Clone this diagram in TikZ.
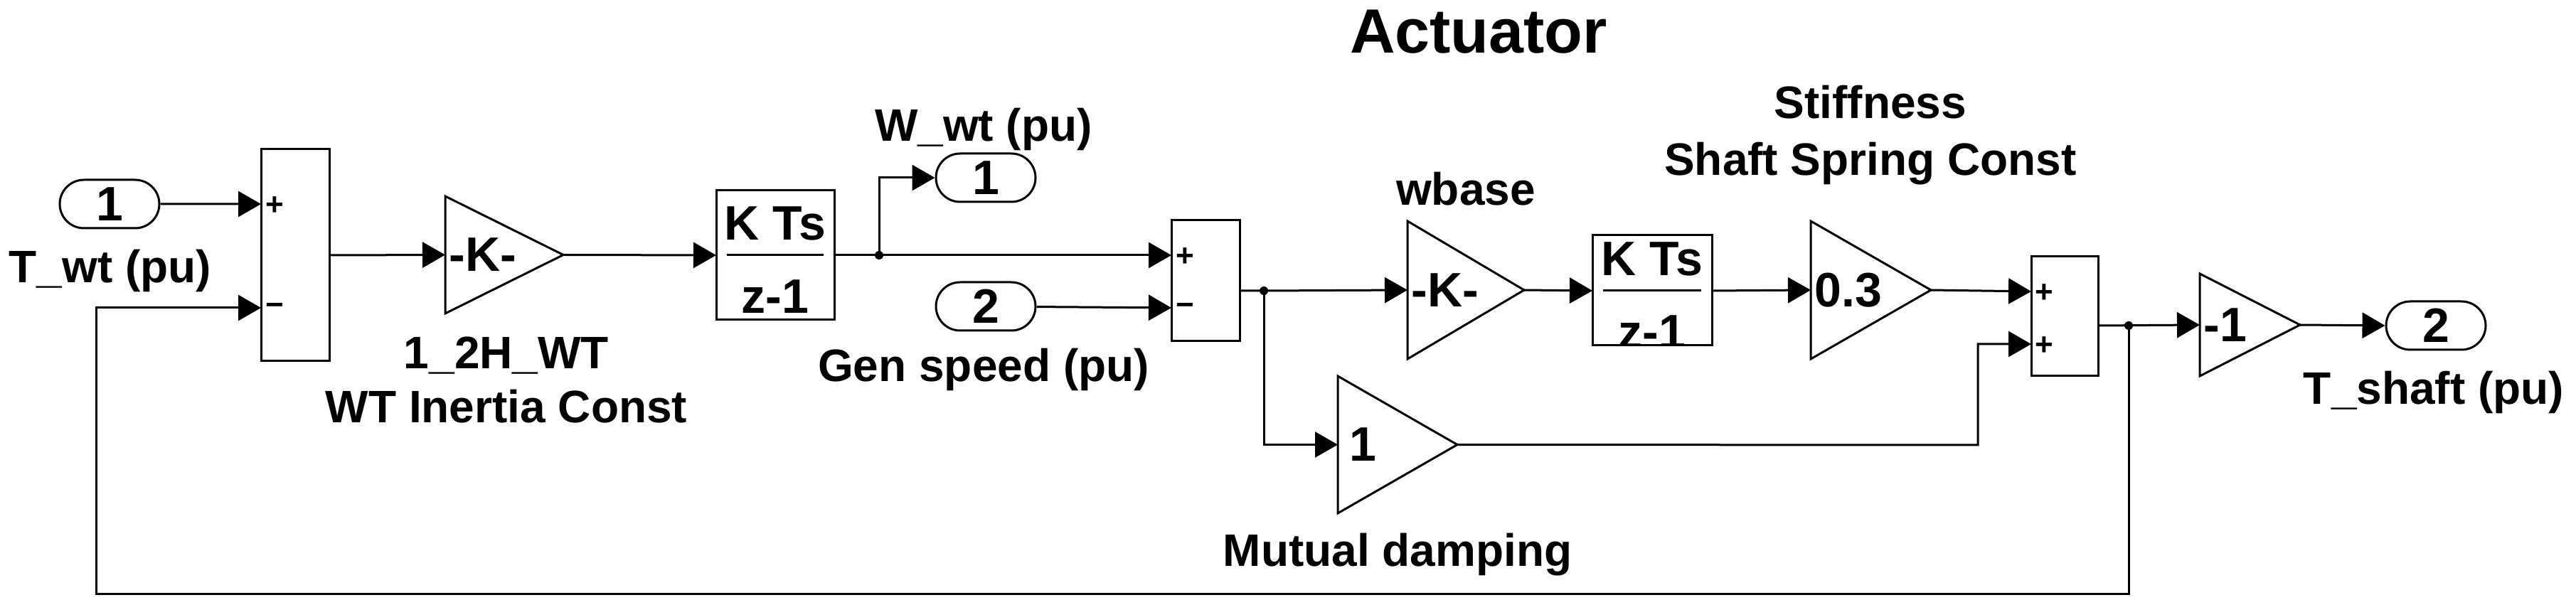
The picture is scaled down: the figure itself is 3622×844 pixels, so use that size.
\documentclass[tikz,border=0pt]{standalone}
\usepackage{fontspec}
\setmainfont{Liberation Sans}
\usetikzlibrary{arrows.meta,shapes.misc}
\begin{document}
\begin{tikzpicture}[x=0.25pt,y=-0.25pt,line width=0.75pt,
  >={Triangle[length=8pt,width=9pt]},
  lbl/.style={font=\bfseries\fontsize{16}{18}\selectfont,align=center},
  blk/.style={font=\bfseries\fontsize{17}{18}\selectfont},
  port/.style={draw,rounded rectangle,minimum width=35pt,minimum height=17pt,inner sep=0pt,font=\bfseries\fontsize{17}{18}\selectfont},
  sg/.style={font=\bfseries\fontsize{11}{12}\selectfont},
  wire/.style={->}]
\useasboundingbox (0,0) rectangle (3622,844);
\newcommand\gainblk[6]{% name xl xr yt yb text
  \pgfmathsetmacro\gm{(#4+#5)/2}
  \draw (#2,#4) -- (#3,\gm) -- (#2,#5) -- cycle;
  \coordinate (#1-in) at (#2,\gm);
  \coordinate (#1-out) at (#3,\gm);
  \node[blk,anchor=west,inner sep=1pt] (#1-t) at (#2,\gm) {#6};}
\newcommand\integ[6]{% name xl xr yt yb ymid
  \draw (#2,#4) rectangle (#3,#5);
  \coordinate (#1-in) at (#2,#6);
  \coordinate (#1-out) at (#3,#6);
  \begin{scope}
  \clip (#2,#4) rectangle (#3,#5);
  \node[blk] at ({(#2+#3)/2},{#6-45}) {K Ts};
  \draw ({#2+15},#6) -- ({#3-15},#6);
  \node[blk] at ({(#2+#3)/2},{#6+58}) {z-1};
  \end{scope}}
% title
\node[font=\bfseries\fontsize{22}{24}\selectfont] (title) at (2079,45) {Actuator};
% inputs
\node[port] (in1) at (154,287) {1};
\node[lbl] (l1) at (155,381) {T\_wt (pu)};
% Sum1
\node[draw,minimum width=24pt,minimum height=74.5pt,inner sep=0pt] (s1) at (415,359) {};
\coordinate (s1a) at (367,287); \coordinate (s1b) at (367,433); \coordinate (s1o) at (463,359);
\node[sg] at (386,290) {+}; \node[sg] at (386,435) {\textminus};
% gain K
\gainblk{g1}{626}{792}{276}{441}{-K-}
\node[lbl] (l2) at (712,500) {1\_2H\_WT};
\node[lbl] (l3) at (712,572) {WT Inertia Const};
% integrator 1
\integ{i1}{1007}{1173}{268}{450}{359}
\coordinate (d1) at (1236,359);
\fill (d1) circle (6);
\node[port] (out1) at (1386,250) {1};
\node[lbl] (l4) at (1383,182) {W\_wt (pu)};
\node[port] (in2) at (1386,431) {2};
\node[lbl] (l5) at (1383,520) {Gen speed (pu)};
% Sum2
\node[draw,minimum width=24pt,minimum height=42.5pt,inner sep=0pt] (s2) at (1695,395) {};
\coordinate (s2a) at (1647,359); \coordinate (s2b) at (1647,433); \coordinate (s2o) at (1743,409);
\node[sg] at (1666,362) {+}; \node[sg] at (1666,435) {\textminus};
\coordinate (d2) at (1777,409);
\fill (d2) circle (6);
% wbase
\gainblk{g2}{1979}{2143}{311}{505}{-K-}
\node[lbl] (l6) at (2061,266) {wbase};
\integ{i2}{2239}{2407}{331}{486}{409}
\gainblk{g3}{2546}{2715}{311}{505}{0.3}
\node[lbl] (l7) at (2630,190) {Stiffness\\[2pt]Shaft Spring Const};
% mutual damping
\gainblk{g4}{1881}{2049}{529}{722}{\,1}
\node[lbl] (l8) at (1965,780) {Mutual damping};
% Sum3
\node[draw,minimum width=23.5pt,minimum height=42pt,inner sep=0pt] (s3) at (2903,445) {};
\coordinate (s3a) at (2856,410); \coordinate (s3b) at (2856,484); \coordinate (s3o) at (2950,458);
\node[sg] at (2874,413) {+}; \node[sg] at (2874,487) {+};
\coordinate (d3) at (2993,458);
\fill (d3) circle (6);
\gainblk{g5}{3093}{3234}{385}{529}{-1}
\node[port] (out2) at (3425,458) {2};
\node[lbl] (l9) at (3422,552) {T\_shaft (pu)};
% wires
\draw[wire] (in1) -- (s1a);
\draw[wire] (s1o) -- (g1-in);
\draw[wire] (g1-out) -- (i1-in);
\draw[wire] (i1-out) -- (s2a);
\draw[wire] (d1) |- (out1.west);
\draw[wire] (in2) -- (s2b);
\draw[wire] (s2o) -| (d2) -- (g2-in);
\draw[wire] (g2-out) -- (i2-in);
\draw[wire] (i2-out) -- (g3-in);
\draw[wire] (g3-out) -- (s3a);
\draw[wire] (d2) |- (g4-in);
\draw[wire] (g4-out) -- (2781,626) |- (s3b);
\draw[wire] (s3o) -- (g5-in);
\draw[wire] (g5-out) -- (out2.west);
\draw[wire] (d3) -- (2993,835) -- (135,835) |- (s1b);
\end{tikzpicture}
\end{document}
